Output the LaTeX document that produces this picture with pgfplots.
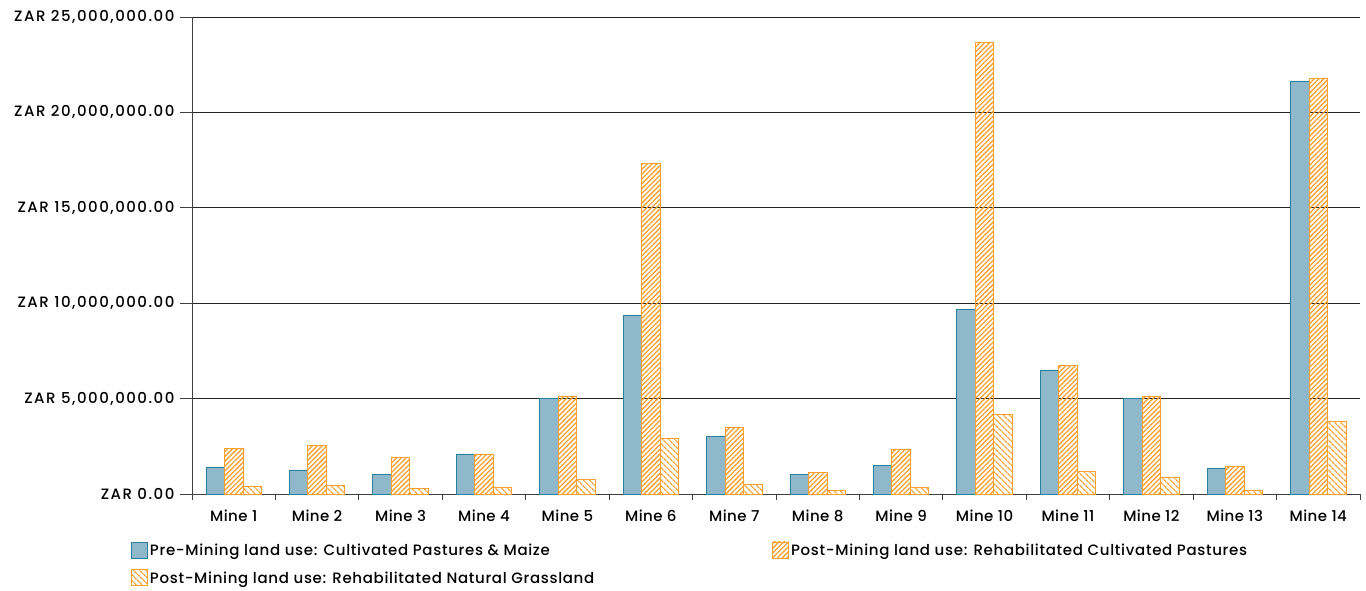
\documentclass[border=0pt]{standalone}
\usepackage{pgfplots}
\pgfplotsset{compat=1.18}
\usepackage{fontspec}
\setmainfont{Poppins}[UprightFont=* Medium, BoldFont=* SemiBold]
\usetikzlibrary{patterns.meta}
\definecolor{barblue}{RGB}{143,185,202}
\definecolor{edgeblue}{RGB}{40,128,158}
\definecolor{barorange}{RGB}{247,160,48}
\begin{document}
\begin{tikzpicture}[x=1pt,y=1pt]
\path[use as bounding box] (-192,-96) rectangle (1174,494);
\begin{axis}[
  at={(0,0)}, anchor=south west, scale only axis,
  width=1168pt, height=477pt,
  ybar=0pt, bar width=18.5pt,
  xmin=-0.5, xmax=13.5, ymin=0, ymax=25,
  axis x line*=bottom, axis y line*=left,
  axis line style={black!75, line width=0.8pt},
  tick align=outside,
  xtick={0,...,13},
  xticklabels={Mine 1,Mine 2,Mine 3,Mine 4,Mine 5,Mine 6,Mine 7,Mine 8,Mine 9,Mine 10,Mine 11,Mine 12,Mine 13,Mine 14},
  major x tick style={draw=none},
  minor xtick={-0.5,0.5,...,13.5},
  minor x tick style={black!75, line width=0.8pt},
  minor tick length=6pt,
  ytick={0,5,...,25},
  yticklabels={{ZAR 0.00},{ZAR 5,000,000.00},{ZAR 10,000,000.00},{ZAR 15,000,000.00},{ZAR 20,000,000.00},{ZAR 25,000,000.00}},
  major tick length=12pt,
  major y tick style={black!75, line width=0.8pt},
  ymajorgrids, grid style={black!85, line width=0.8pt},
  xticklabel style={font=\fontsize{15}{17}\selectfont\addfontfeature{LetterSpace=3}},
  yticklabel style={font=\fontsize{15}{17}\selectfont\addfontfeature{LetterSpace=10}, xshift=-2pt},
  legend style={at={(-0.0548,-0.095)}, anchor=north west, draw=none,
    font=\fontsize{15}{17}\selectfont\addfontfeature{LetterSpace=4.5}, legend columns=2,
    /tikz/every even column/.append style={column sep=176pt},
    row sep=10pt},
  legend cell align=left,
  legend image code/.code={\draw[#1, bar width=0pt, bar shift=0pt] (-4pt,-7pt) rectangle (12pt,9pt);},
]
\addplot[fill=barblue, draw=edgeblue, line width=0.8pt] coordinates {
 (0,1.42) (1,1.26) (2,1.03) (3,2.10) (4,5.00) (5,9.38) (6,3.00)
 (7,1.03) (8,1.50) (9,9.68) (10,6.50) (11,5.02) (12,1.33) (13,21.65)};
\addplot[pattern={Lines[angle=45,distance=3.4pt,line width=1.3pt]}, pattern color=barorange, draw=barorange, line width=0.8pt] coordinates {
 (0,2.41) (1,2.55) (2,1.90) (3,2.10) (4,5.13) (5,17.33) (6,3.51)
 (7,1.15) (8,2.36) (9,23.65) (10,6.74) (11,5.12) (12,1.45) (13,21.77)};
\addplot[pattern={Lines[angle=-45,distance=4pt,line width=1.3pt]}, pattern color=barorange, draw=barorange, line width=0.8pt] coordinates {
 (0,0.38) (1,0.45) (2,0.30) (3,0.37) (4,0.77) (5,2.90) (6,0.50)
 (7,0.20) (8,0.33) (9,4.18) (10,1.17) (11,0.89) (12,0.21) (13,3.81)};
\legend{Pre-Mining land use: Cultivated Pastures \& Maize,
  Post-Mining land use: Rehabilitated Cultivated Pastures,
  Post-Mining land use: Rehabilitated Natural Grassland}
\end{axis}
\end{tikzpicture}
\end{document}
